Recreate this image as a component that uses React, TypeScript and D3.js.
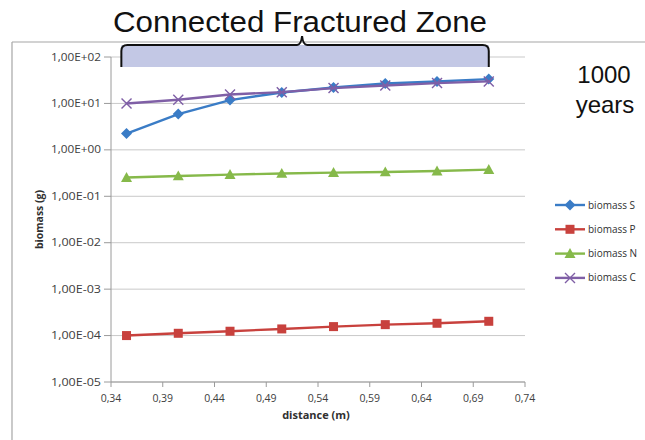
import React from "react";
import * as d3 from "d3";

const distances = [0.355, 0.405, 0.455, 0.505, 0.555, 0.605, 0.655, 0.705];
const biomassS = [2.24, 5.9, 11.8, 17.2, 22, 26.8, 29.6, 33.4];
const biomassP = [1.0e-4, 1.12e-4, 1.24e-4, 1.39e-4, 1.56e-4, 1.72e-4, 1.84e-4, 2.03e-4];
const biomassN = [0.253, 0.274, 0.293, 0.31, 0.324, 0.334, 0.35, 0.376];
const biomassC = [10, 12, 15.6, 17.5, 21.4, 24.4, 27.4, 29.8];
const xTicks = [0.34, 0.39, 0.44, 0.49, 0.54, 0.59, 0.64, 0.69, 0.74];
const yTicks = [1e-5, 1e-4, 1e-3, 1e-2, 1e-1, 1e0, 1e1, 1e2];
const zoneRange = [0.35, 0.705];

type Series = { name: string; values: number[]; color: string; marker: string };
const series: Series[] = [
  { name: "biomass S", values: biomassS, color: "#3a7cc6", marker: "diamond" },
  { name: "biomass P", values: biomassP, color: "#c8413d", marker: "square" },
  { name: "biomass N", values: biomassN, color: "#86b94a", marker: "triangle" },
  { name: "biomass C", values: biomassC, color: "#7f5fa6", marker: "x" },
];

function fmtY(v: number) {
  const e = Math.round(Math.log10(v));
  const sign = e < 0 ? "-" : "+";
  return `1,00E${sign}${String(Math.abs(e)).padStart(2, "0")}`;
}
function fmtX(v: number) {
  return v.toFixed(2).replace(".", ",");
}

function Marker({ type, x, y, color }: { type: string; x: number; y: number; color: string }) {
  if (type === "diamond") {
    const s = 5.5;
    return <path d={`M${x},${y - s}L${x + s},${y}L${x},${y + s}L${x - s},${y}Z`} fill={color} />;
  }
  if (type === "square") {
    const s = 4.5;
    return <rect x={x - s} y={y - s} width={2 * s} height={2 * s} fill={color} />;
  }
  if (type === "triangle") {
    const s = 5.5;
    return <path d={`M${x},${y - s}L${x + s},${y + s * 0.8}L${x - s},${y + s * 0.8}Z`} fill={color} />;
  }
  const s = 5;
  return (
    <path
      d={`M${x - s},${y - s}L${x + s},${y + s}M${x - s},${y + s}L${x + s},${y - s}`}
      stroke={color}
      strokeWidth={1.4}
      fill="none"
    />
  );
}

export default function App() {
  const W = 645;
  const H = 440;
  const x = d3.scaleLinear().domain([0.34, 0.74]).range([111, 525]);
  const y = d3.scaleLog().domain([1e-5, 1e2]).range([382, 57]);
  const line = d3
    .line<number>()
    .x((_, i) => x(distances[i]))
    .y((d) => y(d));

  const fontTick = "'Open Sans', 'Liberation Sans', sans-serif";
  const fontTitle = "'Liberation Sans', Arial, sans-serif";
  const zx0 = x(zoneRange[0]);
  const zx1 = x(zoneRange[1]);
  const zMid = (zx0 + zx1) / 2 - 3;
  const bTop = 45;
  const bBot = 67;
  const bracePath = `M${zx0},${bBot}L${zx0},${bTop + 6}Q${zx0},${bTop} ${zx0 + 6},${bTop}L${zMid - 5},${bTop}Q${zMid - 1},${bTop} ${zMid},${bTop - 9}Q${zMid + 1},${bTop} ${zMid + 5},${bTop}L${zx1 - 6},${bTop}Q${zx1},${bTop} ${zx1},${bTop + 6}L${zx1},${bBot}`;

  return (
    <svg width={W} height={H} style={{ position: "absolute", left: 0, top: 0, background: "#fff" }}>
      {/* frame */}
      <line x1={12} y1={42} x2={W} y2={42} stroke="#a6a6a6" strokeWidth={1.2} />
      <line x1={12} y1={42} x2={12} y2={H} stroke="#a6a6a6" strokeWidth={1.2} />

      {/* gridlines */}
      {yTicks.map((t) => (
        <line key={t} x1={x(0.34)} x2={x(0.74)} y1={y(t)} y2={y(t)} stroke="#c9c9c9" strokeWidth={1} />
      ))}
      {/* axes */}
      <line x1={x(0.34)} x2={x(0.34)} y1={y(1e2)} y2={y(1e-5)} stroke="#9a9a9a" />
      <line x1={x(0.34)} x2={x(0.74)} y1={y(1e-5)} y2={y(1e-5)} stroke="#9a9a9a" />
      {yTicks.map((t) => (
        <g key={"yt" + t}>
          <line x1={x(0.34) - 7} x2={x(0.34)} y1={y(t)} y2={y(t)} stroke="#9a9a9a" />
          <text x={x(0.34) - 10} y={y(t) + 3.5} textAnchor="end" fontSize={10.5} fontFamily={fontTick} fill="#404040" textLength={50} lengthAdjust="spacingAndGlyphs">
            {fmtY(t)}
          </text>
        </g>
      ))}
      {xTicks.map((t) => (
        <g key={"xt" + t}>
          <line x1={x(t)} x2={x(t)} y1={y(1e-5)} y2={y(1e-5) + 5} stroke="#9a9a9a" />
          <text x={x(t)} y={y(1e-5) + 20} textAnchor="middle" fontSize={10.5} fontFamily={fontTick} fill="#404040">
            {fmtX(t)}
          </text>
        </g>
      ))}
      <text
        x={316}
        y={419}
        textAnchor="middle"
        fontSize={11}
        fontWeight="bold"
        fontFamily={fontTick}
        fill="#303030"
      >
        distance (m)
      </text>
      <text
        transform={`translate(43,${(y(1e2) + y(1e-5)) / 2}) rotate(-90)`}
        textAnchor="middle"
        fontSize={10.5}
        fontWeight="bold"
        fontFamily={fontTick}
        fill="#303030"
      >
        biomass (g)
      </text>

      {/* zone brace */}
      <rect x={zx0} y={bTop} width={zx1 - zx0} height={bBot - bTop} fill="#c3c8e5" />
      <path d={bracePath} fill="none" stroke="#111" strokeWidth={2} />

      {/* series */}
      {series.map((s) => (
        <g key={s.name}>
          <path d={line(s.values) || ""} fill="none" stroke={s.color} strokeWidth={2.4} />
          {s.values.map((v, i) => (
            <Marker key={i} type={s.marker} x={x(distances[i])} y={y(v)} color={s.color} />
          ))}
        </g>
      ))}

      {/* legend */}
      {series.map((s, i) => {
        const ly = 205 + i * 24.3;
        return (
          <g key={"lg" + s.name}>
            <line x1={555} x2={585} y1={ly} y2={ly} stroke={s.color} strokeWidth={2.4} />
            <Marker type={s.marker} x={570} y={ly} color={s.color} />
            <text x={588} y={ly + 3.5} fontSize={10} fontFamily={fontTick} fill="#303030">
              {s.name}
            </text>
          </g>
        );
      })}

      {/* titles */}
      <text x={300} y={32} textAnchor="middle" fontSize={30} fontFamily={fontTitle} fill="#111" textLength={374} lengthAdjust="spacingAndGlyphs">
        Connected Fractured Zone
      </text>
      <text x={604} y={83} textAnchor="middle" fontSize={24} fontFamily={fontTitle} fill="#111">
        1000
      </text>
      <text x={605} y={113} textAnchor="middle" fontSize={24} fontFamily={fontTitle} fill="#111">
        years
      </text>
    </svg>
  );
}
